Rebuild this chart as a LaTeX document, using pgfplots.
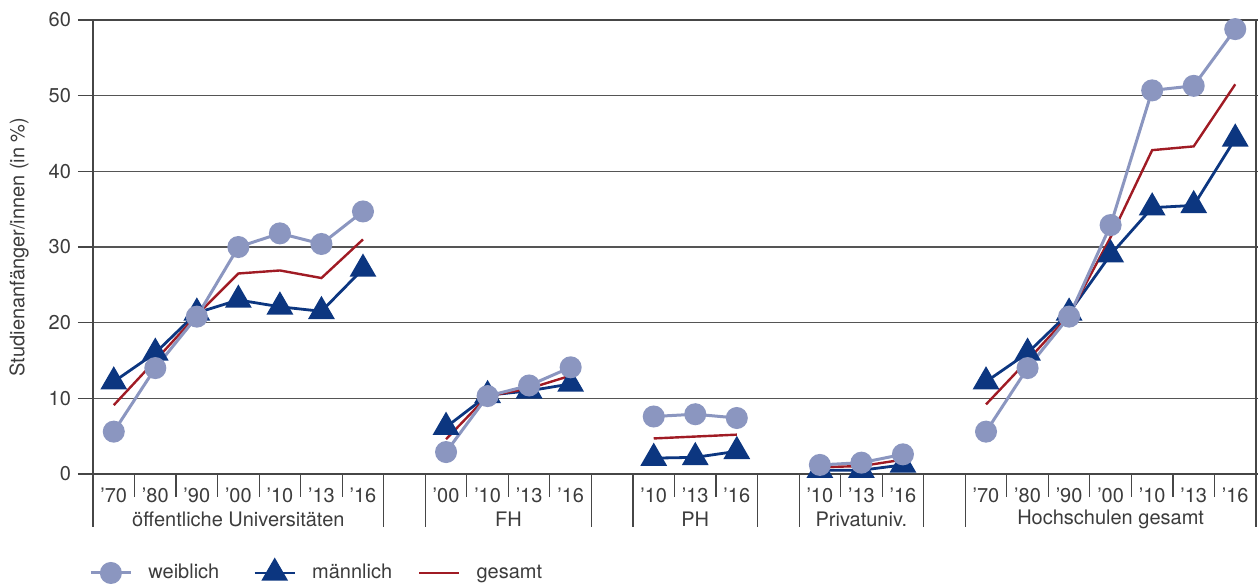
\documentclass[border=0pt]{standalone}
\usepackage{pgfplots}
\usepackage{pgfplotstable}
\pgfplotsset{compat=1.18}
\usepackage{fontspec}
\setmainfont{TeX Gyre Heros}
\definecolor{wcol}{RGB}{139,150,192}
\definecolor{mcol}{RGB}{12,54,128}
\definecolor{gcol}{RGB}{160,27,36}
\definecolor{txtcol}{RGB}{60,60,60}
\definecolor{axcol}{RGB}{70,70,70}
\definecolor{gridcol}{RGB}{85,85,85}

\pgfplotstableread{
x w m g
0 5.6 12.2 9.1
1 14.0 16.0 15.0
2 20.8 21.3 21.0
3 30.0 23.0 26.5
4 31.8 22.1 26.9
5 30.4 21.5 25.9
6 34.7 27.1 31.0
7 nan nan nan
8 2.9 6.2 4.6
9 10.3 10.4 10.3
10 11.7 11.0 11.3
11 14.1 11.9 13.0
12 nan nan nan
13 7.6 2.1 4.7
14 7.9 2.2 4.95
15 7.4 3.0 5.2
16 nan nan nan
17 1.2 0.5 0.9
18 1.5 0.5 1.05
19 2.6 1.2 1.9
20 nan nan nan
21 5.6 12.2 9.2
22 14.0 16.0 15.0
23 20.8 21.3 21.0
24 32.9 29.0 31.3
25 50.7 35.2 42.8
26 51.3 35.5 43.3
27 58.8 44.3 51.5
}\datatable

\pgfplotsset{
  wstyle/.style={color=wcol, line width=1.5pt, mark=*, mark size=4.75pt, mark options={draw=none, fill=wcol}},
  mstyle/.style={color=mcol, line width=1.4pt, mark=triangle*, mark size=6.35pt, mark options={draw=none, fill=mcol}},
  gstyle/.style={color=gcol, line width=1.2pt, no marks},
}

\begin{document}
\begin{tikzpicture}
\useasboundingbox (0,0) rectangle (629pt,292.5pt);
\begin{axis}[
  at={(46.5pt,55.5pt)}, anchor=south west,
  scale only axis, width=581.5pt, height=227pt,
  xmin=-0.5, xmax=27.5, ymin=0, ymax=60,
  ytick={0,10,20,30,40,50,60},
  /pgf/number format/assume math mode=true,
  ymajorgrids,
  grid style={color=gridcol, line width=0.6pt},
  axis line style={color=axcol, line width=0.6pt},
  xtick={0,1,2,3,4,5,6,8,9,10,11,13,14,15,17,18,19,21,22,23,24,25,26,27},
  xticklabels={'70,'80,'90,'00,'10,'13,'16,'00,'10,'13,'16,'10,'13,'16,'10,'13,'16,'70,'80,'90,'00,'10,'13,'16},
  x tick style={draw=none},
  xticklabel style={yshift=4pt},
  y tick style={color=axcol, line width=0.6pt},
  tick align=outside, major tick length=7.5pt,
  every tick label/.append style={text=txtcol},
  ylabel={Studienanfänger/innen (in \%)},
  every axis y label/.style={at={(axis description cs:-0.0636,0.5)}, rotate=90, anchor=center, text=txtcol},
  unbounded coords=jump,
  clip=false,
  legend columns=-1,
  legend style={at={(axis description cs:0,-0.218)}, anchor=west, xshift=-2pt, draw=none, fill=none, inner sep=0pt, text=txtcol,
    /tikz/column 2/.style={column sep=15pt},
    /tikz/column 4/.style={column sep=11pt},
    /tikz/every odd column/.append style={column sep=6pt}},
  legend image code/.code={\draw[mark repeat=2,mark phase=2,#1] plot coordinates {(0pt,0pt) (10pt,0pt) (20pt,0pt)};},
]
\addlegendimage{wstyle}\addlegendentry{weiblich}
\addlegendimage{mstyle}\addlegendentry{männlich}
\addlegendimage{gstyle}\addlegendentry{gesamt}

\addplot[mstyle, forget plot] table[x=x, y=m] {\datatable};
\addplot[gstyle, forget plot] table[x=x, y=g] {\datatable};
\addplot[wstyle, forget plot] table[x=x, y=w] {\datatable};

\pgfplotsinvokeforeach{0.5,1.5,2.5,3.5,4.5,5.5,8.5,9.5,10.5,13.5,14.5,17.5,18.5,21.5,22.5,23.5,24.5,25.5,26.5}{
  \draw[axcol, line width=0.6pt] (axis cs:#1,0) -- ++(0pt,-11.5pt);
}
\pgfplotsinvokeforeach{-0.5,6.5,7.5,11.5,12.5,15.5,16.5,19.5,20.5,27.5}{
  \draw[axcol, line width=0.6pt] (axis cs:#1,0) -- ++(0pt,-26.5pt);
}
\node[text=txtcol] at ([yshift=-22.5pt]axis cs:3,0) {öffentliche Universitäten};
\node[text=txtcol] at ([yshift=-22.5pt]axis cs:9.5,0) {FH};
\node[text=txtcol] at ([yshift=-22.5pt]axis cs:14,0) {PH};
\node[text=txtcol] at ([yshift=-22.5pt]axis cs:18,0) {Privatuniv.};
\node[text=txtcol] at ([yshift=-22.5pt]axis cs:24,0) {Hochschulen gesamt};
\end{axis}
\end{tikzpicture}
\end{document}
